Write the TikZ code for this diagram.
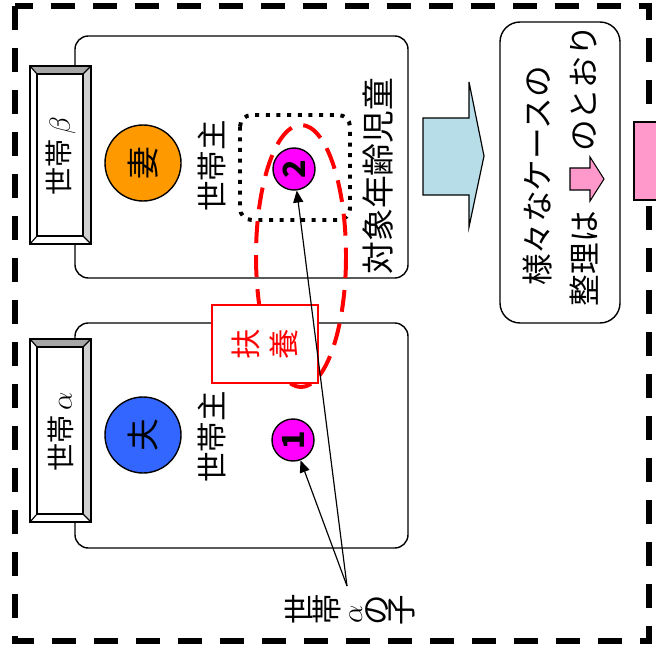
\documentclass[tikz,border=0pt]{standalone}
\usepackage{fontspec}
\usepackage{graphicx}
\usetikzlibrary{arrows.meta}

\newfontfamily\jp{Noto Sans CJK JP}

\definecolor{wifeorange}{HTML}{FF9900}
\definecolor{husbandblue}{HTML}{3366FF}
\definecolor{childpink}{HTML}{FF00FF}
\definecolor{arrowpink}{HTML}{FF99CC}
\definecolor{arrowblue}{HTML}{B7DEE8}
\definecolor{bevtop}{HTML}{A6A6A6}
\definecolor{bevside}{HTML}{D0D0D0}

% one glyph turned, for the column-set texts
\newcommand\rch[1]{\rotatebox[origin=c]{90}{#1}}

\tikzset{
  frame/.style={line width=5pt,dash pattern=on 0.72cm off 0.54cm},
  household/.style={draw,rounded corners=0.4cm,line width=1.2pt},
  person/.style={circle,draw,line width=1.2pt,minimum size=2.28cm,inner sep=0pt,rotate=90,
    font=\jp\fontsize{28}{30}\selectfont},
  kid/.style={circle,draw,fill=childpink,line width=1.2pt,minimum size=1.26cm,inner sep=0pt,rotate=90,
    font=\jp\bfseries\fontsize{26}{28}\selectfont},
  sidetext/.style={rotate=90,inner sep=0pt,font=\jp\fontsize{26}{28}\selectfont},
  platetext/.style={rotate=90,inner sep=0pt,font=\jp\fontsize{24}{26}\selectfont},
  notetext/.style={rotate=90,inner sep=0pt,font=\jp\fontsize{27}{29}\selectfont},
  dotbox/.style={line width=3.4pt,dash pattern=on 3.4pt off 5.7pt,rounded corners=0.35cm},
  redloop/.style={red,line width=3.4pt,dash pattern=on 0.66cm off 0.36cm},
  redbox/.style={draw=red,fill=white,text=red,line width=1.2pt,minimum width=3.18cm,minimum height=2.34cm,
    font=\jp\fontsize{26}{28}\selectfont},
  kidtext/.style={inner sep=0pt,font=\jp\fontsize{26}{28}\selectfont},
  pointer/.style={line width=1pt,-{Triangle[length=0.36cm,width=0.3cm]}},
  notebox/.style={rounded corners=0.6cm,line width=1.2pt}
}

\begin{document}
\begin{tikzpicture}[x=0.03cm,y=-0.03cm]

    \useasboundingbox (0,0) rectangle (656,652);
    \clip (0,0) rectangle (656,652);

    % Outer dashed frame
    \draw[frame] (15,6) rectangle (649,641);

    % Households
    \draw[household] (75,36) rectangle (408,278);
    \draw[household] (75,323) rectangle (408,548);

    % Name plates (bevelled)
    \foreach \ya/\yb in {66/244,339/522}{
        \fill[white] (30,\ya) rectangle (91,\yb);
        \fill[bevtop] (30,\ya) -- (91,\ya) -- (83,\ya+8) -- (37,\ya+8) -- cycle;
        \fill[bevside] (91,\ya) -- (91,\yb) -- (83,\yb-8) -- (83,\ya+8) -- cycle;
        \draw[line width=1.5pt] (30,\ya) rectangle (91,\yb);
        \draw[line width=1.2pt] (37,\ya+8) rectangle (83,\yb-8);
        \draw[line width=1pt] (30,\ya) -- (37,\ya+8) (91,\ya) -- (83,\ya+8)
            (91,\yb) -- (83,\yb-8) (30,\yb) -- (37,\yb-8);
    }
    \node[platetext] (plateBeta) at (61,156) {世帯\,$\beta$};
    \node[platetext] (plateAlpha) at (61,432) {世帯\,$\alpha$};

    % Parents and heads of household
    \node[person,fill=wifeorange] (wife) at (143,163) {妻};
    \node[person,fill=husbandblue] (husband) at (143,435) {夫};
    \node[sidetext] (headBeta) at (212,166) {世帯主};
    \node[sidetext] (headAlpha) at (212,437) {世帯主};

    % Target child in household beta
    \draw[dotbox] (240,115) rectangle (350,220);
    \node[sidetext,font=\jp\fontsize{28}{30}\selectfont] (target) at (378,176) {対象年齢児童};

    % Support loop and box
    \draw[redloop] (301,256) ellipse [x radius=45,y radius=131];
    \node[kid] (child2) at (294,169) {2};
    \node[kid] (child1) at (293,440) {1};
    \node[redbox] (fuyou) at (265,344) {\rch{扶}\hspace{9pt}\rch{養}};

    % Children of household alpha
    \node[kidtext] (childLabel) at (350,610) {\rch{世}\rch{帯}\hspace{7pt}\rch{$\alpha$}\hspace{3pt}\rch{の}\rch{子}};
    \coordinate (fork) at (347,586);
    \draw[pointer] (fork) -- (child2);
    \draw[pointer] (fork) -- (child1);

    % Step arrow and note
    \draw[fill=arrowblue,line width=1pt] (423,118) -- (469,118) -- (469,82) -- (484,156)
        -- (469,227) -- (469,195) -- (423,195) -- cycle;
    \draw[notebox] (500,22) rectangle (620,323);
    \node[notetext] (noteLine1) at (537,176) {様々なケースの};
    \node[notetext,anchor=east] (noteLine2a) at (584,211) {整理は};
    \node[notetext,anchor=west] (noteLine2b) at (584,152) {のとおり};
    \draw[fill=arrowpink,line width=0.9pt] (570,168) -- (590,168) -- (590,157) -- (604,179)
        -- (590,201) -- (590,190) -- (570,190) -- cycle;

    % Next panel (cut off)
    \draw[fill=arrowpink,line width=1pt] (634,122) rectangle (670,200);

\end{tikzpicture}
\end{document}
